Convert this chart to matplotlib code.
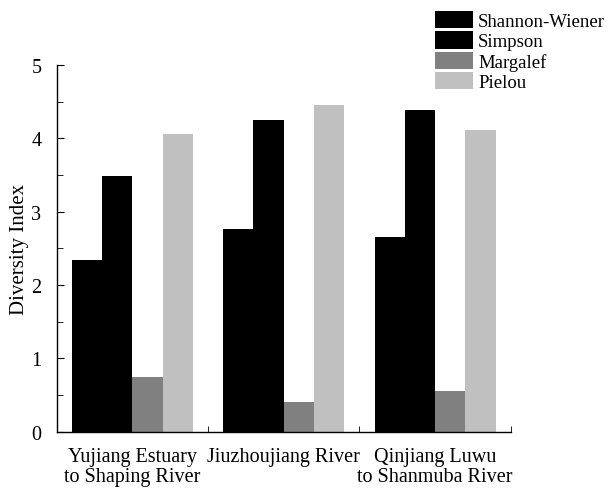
import matplotlib
matplotlib.use("Agg")
import matplotlib.pyplot as plt
import numpy as np
from matplotlib.patches import Patch
from matplotlib.ticker import MultipleLocator

categories = ["Yujiang Estuary\nto Shaping River", "Jiuzhoujiang River", "Qinjiang Luwu\nto Shanmuba River"]
series = ["Shannon-Wiener", "Simpson", "Margalef", "Pielou"]
shannon = [2.34, 2.76, 2.65]
simpson = [3.49, 4.25, 4.38]
margalef = [0.74, 0.40, 0.55]
pielou = [4.06, 4.45, 4.11]
colors = ["#000000", "#000000", "#808080", "#c0c0c0"]

plt.rcParams['font.family'] = ['Liberation Serif', 'DejaVu Serif']

fig = plt.figure(figsize=(6.13, 4.89), dpi=100)
ax = fig.add_axes([56.7/613, 1-432.5/489, 454/613, 366.5/489])

x = np.arange(len(categories))
w = 0.2
vals = [shannon, simpson, margalef, pielou]
for i, (v, c) in enumerate(zip(vals, colors)):
    ax.bar(x - 0.4 + w/2 + i*w, v, width=w, color=c, edgecolor='none')

ax.set_xlim(-0.5, 2.5)
ax.set_ylim(0, 5)
ax.spines['top'].set_visible(False)
ax.spines['right'].set_visible(False)
for s in ['left', 'bottom']:
    ax.spines[s].set_linewidth(1.0)
ax.yaxis.set_major_locator(MultipleLocator(1))
ax.yaxis.set_minor_locator(MultipleLocator(0.5))
ax.tick_params(axis='y', which='both', direction='in', labelsize=14.5, pad=11)
ax.tick_params(axis='y', which='major', length=5)
ax.tick_params(axis='y', which='minor', length=4)
ax.set_xticks([0.5, 1.5, 2.5], minor=True)
ax.set_xticks(x)
ax.set_xticklabels(categories, fontsize=14.5, linespacing=1.12)
ax.tick_params(axis='x', which='major', length=0, pad=11)
ax.tick_params(axis='x', which='minor', direction='in', length=4)
ax.set_ylabel("Diversity Index", fontsize=15, labelpad=2)

handles = [Patch(facecolor=c, edgecolor='none') for c in colors]
fig.legend(handles, series, loc='upper left', bbox_to_anchor=(435/613, 1-12/489),
           frameon=False, fontsize=13.5, handlelength=2.03, handleheight=1.04,
           labelspacing=0.07, handletextpad=0.27, borderpad=0, borderaxespad=0)

fig.savefig("out.png", dpi=100)
